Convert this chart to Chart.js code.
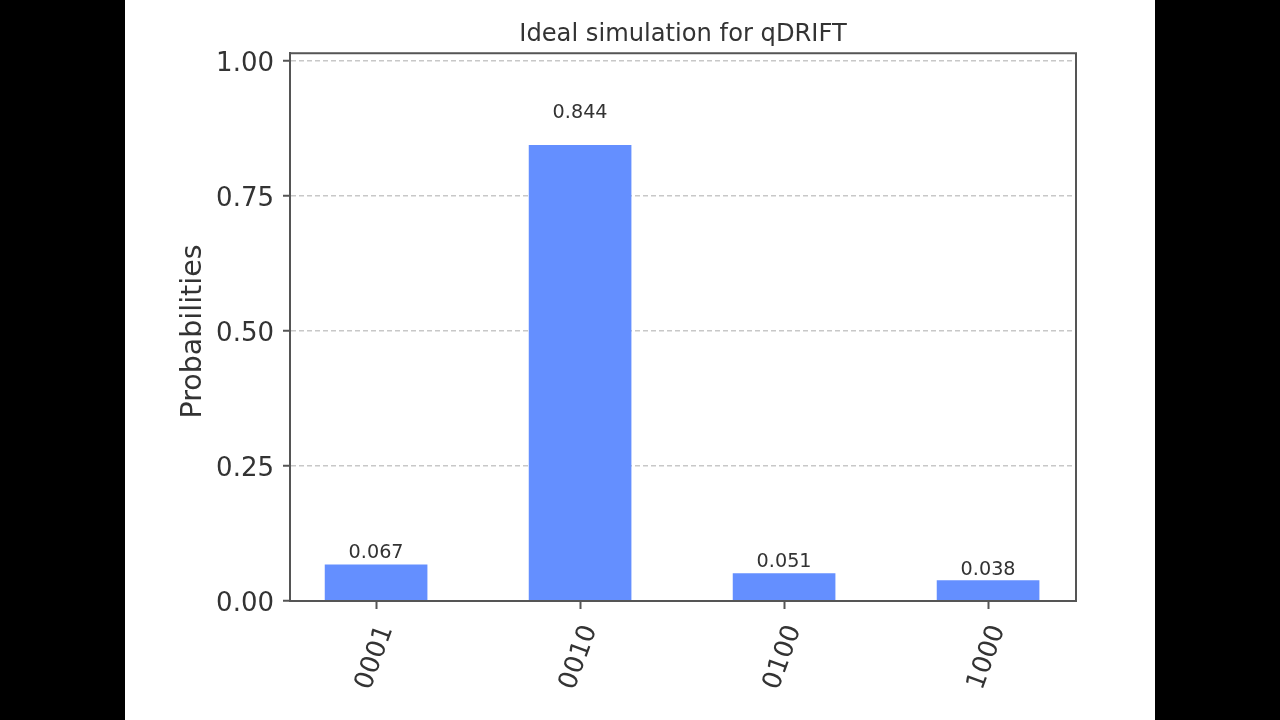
<!DOCTYPE html>
<html>
<head>
<meta charset="utf-8">
<title>Ideal simulation for qDRIFT</title>
<script src="https://cdn.jsdelivr.net/npm/chart.js@4"></script>
<style>
    html, body { margin: 0; padding: 0; background: #000; }
    #wrap { position: absolute; left: 125px; top: 0; width: 1030px; height: 720px; background: #fff; }
</style>
</head>
<body>
<div id="wrap"><canvas id="chart" width="1030" height="720"></canvas></div>
<script>
const categories = ['0001', '0010', '0100', '1000'];
const probabilities = [0.067, 0.844, 0.051, 0.038];
const yTicks = [0, 0.25, 0.5, 0.75, 1];
const yAxisLabel = 'Probabilities';

const FONT = '"DejaVu Sans"';
const TEXT = '#333333';
const SPINE = '#555555';

// 文字位置库的选项调不准，这里用比例尺自己画；框线补上顶边和右边
const annotate = {
    id: 'annotate',
    afterDatasetsDraw(chart) {
        const { ctx, chartArea: a, scales: { x, y } } = chart;
        ctx.save();
        ctx.fillStyle = TEXT;

        ctx.font = '19.2px ' + FONT;
        ctx.textAlign = 'center';
        ctx.textBaseline = 'bottom';
        probabilities.forEach((v, i) => {
            ctx.fillText(v.toFixed(3), x.getPixelForValue(i), y.getPixelForValue(v * 1.05));
        });

        ctx.font = '26px ' + FONT;
        ctx.textAlign = 'right';
        ctx.textBaseline = 'middle';
        yTicks.forEach(v => {
            ctx.fillText(v.toFixed(2), a.left - 16, y.getPixelForValue(v) + 3);
        });

        ctx.textAlign = 'center';
        categories.forEach((c, i) => {
            ctx.save();
            ctx.translate(x.getPixelForValue(i) - 1, a.bottom + 56.5);
            ctx.rotate(-70 * Math.PI / 180);
            ctx.fillText(c, 0, 0);
            ctx.restore();
        });

        ctx.save();
        ctx.font = '28.5px ' + FONT;
        ctx.translate(69, 331.5);
        ctx.rotate(-Math.PI / 2);
        ctx.fillText(yAxisLabel, 0, 0);
        ctx.restore();

        ctx.strokeStyle = SPINE;
        ctx.lineWidth = 2;
        ctx.strokeRect(a.left, a.top, a.right - a.left, a.bottom - a.top);
        ctx.restore();
    }
};

new Chart(document.getElementById('chart'), {
    type: 'bar',
    data: {
        datasets: [{
            data: probabilities.map((v, i) => ({ x: i, y: v })),
            backgroundColor: '#648fff',
            barThickness: 102,
        }]
    },
    options: {
        responsive: false,
        animation: false,
        layout: { padding: { right: 79 } },
        plugins: {
            legend: { display: false },
            tooltip: { enabled: false },
            title: {
                display: true,
                fullSize: false,
                text: 'Ideal simulation for qDRIFT',
                color: TEXT,
                font: { family: FONT, size: 24.2, weight: 'normal' },
                padding: { top: 20.6, bottom: 3.6 },
            },
        },
        scales: {
            x: {
                type: 'linear',
                offset: false,
                min: -0.422,
                max: 3.431,
                afterBuildTicks: s => { s.ticks = categories.map((c, i) => ({ value: i })); },
                afterFit: s => { s.height = 119; },
                grid: { offset: false, drawOnChartArea: false, tickColor: SPINE, tickLength: 8, tickWidth: 2 },
                border: { color: SPINE, width: 2 },
                ticks: { display: false },
            },
            y: {
                min: 0,
                max: 1.0148,
                afterBuildTicks: s => { s.ticks = yTicks.map(v => ({ value: v })); },
                afterFit: s => { s.width = 165; },
                grid: {
                    color: '#c8c8c8',
                    lineWidth: 1.5,
                    tickColor: SPINE,
                    tickLength: 7,
                    tickWidth: 2,
                    tickBorderDash: [],
                },
                border: { color: SPINE, width: 2, dash: [5, 3] },
                ticks: { display: false },
            },
        },
    },
    plugins: [annotate],
});
</script>
</body>
</html>
